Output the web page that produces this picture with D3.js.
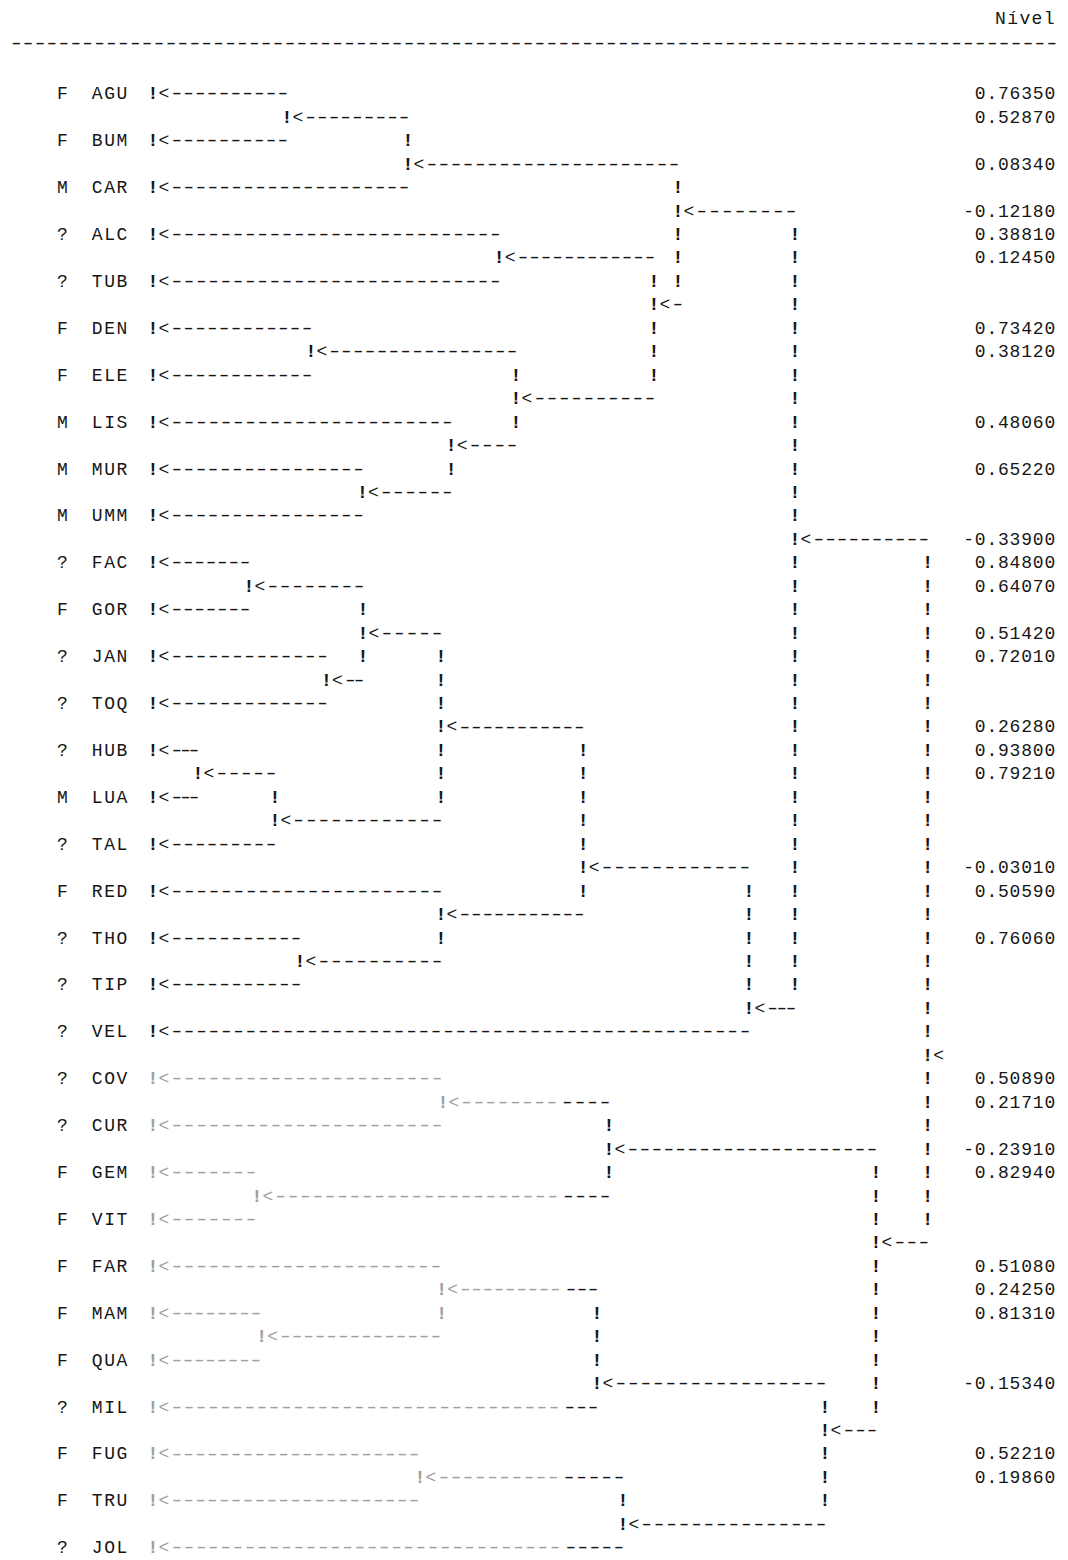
<!DOCTYPE html>
<html>
<head>
<meta charset="utf-8">
<script src="https://cdn.jsdelivr.net/npm/d3@7"></script>
<style>
  body { margin: 0; background: #fff; }
  svg text { font-family: "Liberation Mono", "DejaVu Sans Mono", monospace; font-size: 18px; }
</style>
</head>
<body>
<script>
// leaves, top to bottom
var sexes = ["F","F","M","?","?","F","F","M","M","M","?","F","?","?","?","M",
             "?","F","?","?","?","?","?","F","F","F","F","F","?","F","F","?"];
var codes = ["AGU","BUM","CAR","ALC","TUB","DEN","ELE","LIS","MUR","UMM","FAC","GOR",
             "JAN","TOQ","HUB","LUA","TAL","RED","THO","TIP","VEL","COV","CUR","GEM",
             "VIT","FAR","MAM","QUA","MIL","FUG","TRU","JOL"];
var leafCol = 12.75;

// merges: printed row, the two joined rows, print column of the "!<"
var mergeRows   = [1,3,5,7,9,11,13,15,17,19,21,23,25,27,29,31,33,35,37,39,41,43,45,47,49,51,53,55,57,59,61];
var mergeChildA = [0,1,3,6,7,10,11,14,16,5,20,21,24,23,28,29,27,34,36,33,19,42,43,46,45,50,52,51,55,58,59];
var mergeChildB = [2,4,9,8,13,12,15,17,18,39,22,25,26,31,30,32,35,37,38,40,49,44,47,48,57,53,54,56,61,60,62];
var mergeCols   = [23.9,34.0,56.5,41.6,54.5,25.9,43.0,37.6,30.2,66.25,20.75,30.25,27.2,36.75,16.5,22.9,
                   48.6,36.75,25.0,62.4,77.3,36.9,50.75,21.4,73.0,36.8,21.8,49.75,68.75,35.0,51.9];

// "Nível" column
var valueRows   = [0,1,3,5,6,7,10,11,14,16,19,20,21,23,24,27,28,29,33,34,36,42,43,45,46,50,51,52,55,58,59];
var valueLabels = ["0.76350","0.52870","0.08340","-0.12180","0.38810","0.12450","0.73420","0.38120",
                   "0.48060","0.65220","-0.33900","0.84800","0.64070","0.51420","0.72010","0.26280",
                   "0.93800","0.79210","-0.03010","0.50590","0.76060","0.50890","0.21710","-0.23910",
                   "0.82940","0.51080","0.24250","0.81310","-0.15340","0.52210","0.19860"];

var width = 1068, height = 1560;
var ink = "#161616", faint = "#a0a0a0";

var svg = d3.select("body").append("svg")
    .attr("width", width)
    .attr("height", height);

// print column -> x, print row -> y
var x = d3.scaleLinear().domain([0, 1]).range([0, 12]);
var y = d3.scaleLinear().domain([0, 62]).range([93, 1547]);

// lower block of the printout came out lighter on the left
var fadeEdge = 566;
function colour(row, px) {
  return (row >= 42 && px < fadeEdge) ? faint : ink;
}

function glyph(ch, px, py, fill) {
  var t = svg.append("text")
      .attr("x", px)
      .attr("y", py)
      .attr("dy", "0.35em")
      .attr("text-anchor", "middle")
      .style("fill", fill)
      .text(ch);
  if (ch === "!") t.style("font-weight", "bold");
}

// a run of n dashes spread over [x0, x1]; typewriter dashes are longer than the hyphen
var stretch = 1.45;
function dashes(x0, x1, n, py, fill) {
  if (n < 1) return;
  svg.append("text")
      .attr("transform", "translate(" + x0 + "," + py + ") scale(" + stretch + ",1)")
      .attr("dy", "0.35em")
      .attr("textLength", (x1 - x0) / stretch)
      .attr("lengthAdjust", "spacing")
      .style("fill", fill)
      .text(d3.range(n).map(function() { return "-"; }).join(""));
}

// each row: "!<" then a run of dashes up to the parent column
var nodes = [];
codes.forEach(function(c, i) { nodes.push({row: i * 2, col: leafCol}); });
mergeRows.forEach(function(r, i) { nodes.push({row: r, col: mergeCols[i]}); });

nodes.forEach(function(n) {
  var k = mergeChildA.indexOf(n.row);
  if (k < 0) k = mergeChildB.indexOf(n.row);
  var px = x(n.col), py = y(n.row);
  glyph("!", px, py, colour(n.row, px));
  glyph("<", px + 11, py, colour(n.row, px + 11));
  if (k < 0) return;
  var x0 = px + 16, x1 = x(mergeCols[k]) + 4;
  var count = Math.round((x1 - x0) / 12.4);
  if (count < 1) return;
  var step = (x1 - x0) / count;
  // split where the faint print turns dark
  var s = 0;
  if (n.row >= 42) {
    s = d3.range(count).filter(function(j) { return x0 + step * (j + 0.5) < fadeEdge; }).length;
  }
  var xs = x0 + s * step - (s > 0 ? 2 : 0);
  dashes(x0, x0 + s * step - (s > 0 ? 2 : 0), s, py, faint);
  dashes(xs, x1, count - s, py, ink);
});

// vertical "!" between the joined rows
mergeRows.forEach(function(r, i) {
  var px = x(mergeCols[i]);
  d3.range(mergeChildA[i] + 1, mergeChildB[i]).forEach(function(row) {
    if (row === r) return;
    glyph("!", px, y(row), colour(row, px));
  });
});

// leaf labels
svg.selectAll(".sex")
    .data(sexes)
    .enter().append("text")
    .attr("class", "sex")
    .attr("x", x(5.2))
    .attr("y", function(d, i) { return y(i * 2); })
    .attr("dy", "0.35em")
    .attr("text-anchor", "middle")
    .style("fill", ink)
    .text(function(d) { return d; });

svg.selectAll(".code")
    .data(codes)
    .enter().append("text")
    .attr("class", "code")
    .attr("x", x(7.65))
    .attr("y", function(d, i) { return y(i * 2); })
    .attr("dy", "0.35em")
    .style("letter-spacing", "1.6px")
    .style("fill", ink)
    .text(function(d) { return d; });

// level values, right aligned
svg.selectAll(".level")
    .data(valueLabels)
    .enter().append("text")
    .attr("class", "level")
    .attr("x", x(88))
    .attr("y", function(d, i) { return y(valueRows[i]); })
    .attr("dy", "0.35em")
    .attr("text-anchor", "end")
    .style("letter-spacing", "0.8px")
    .style("fill", ink)
    .text(function(d) { return d; });

// header
svg.append("text")
    .attr("x", x(88))
    .attr("y", 18)
    .attr("dy", "0.35em")
    .attr("text-anchor", "end")
    .style("letter-spacing", "1.4px")
    .style("fill", ink)
    .text("Nível");

dashes(x(0.7), x(88.3), 88, 43, ink);
</script>
</body>
</html>
